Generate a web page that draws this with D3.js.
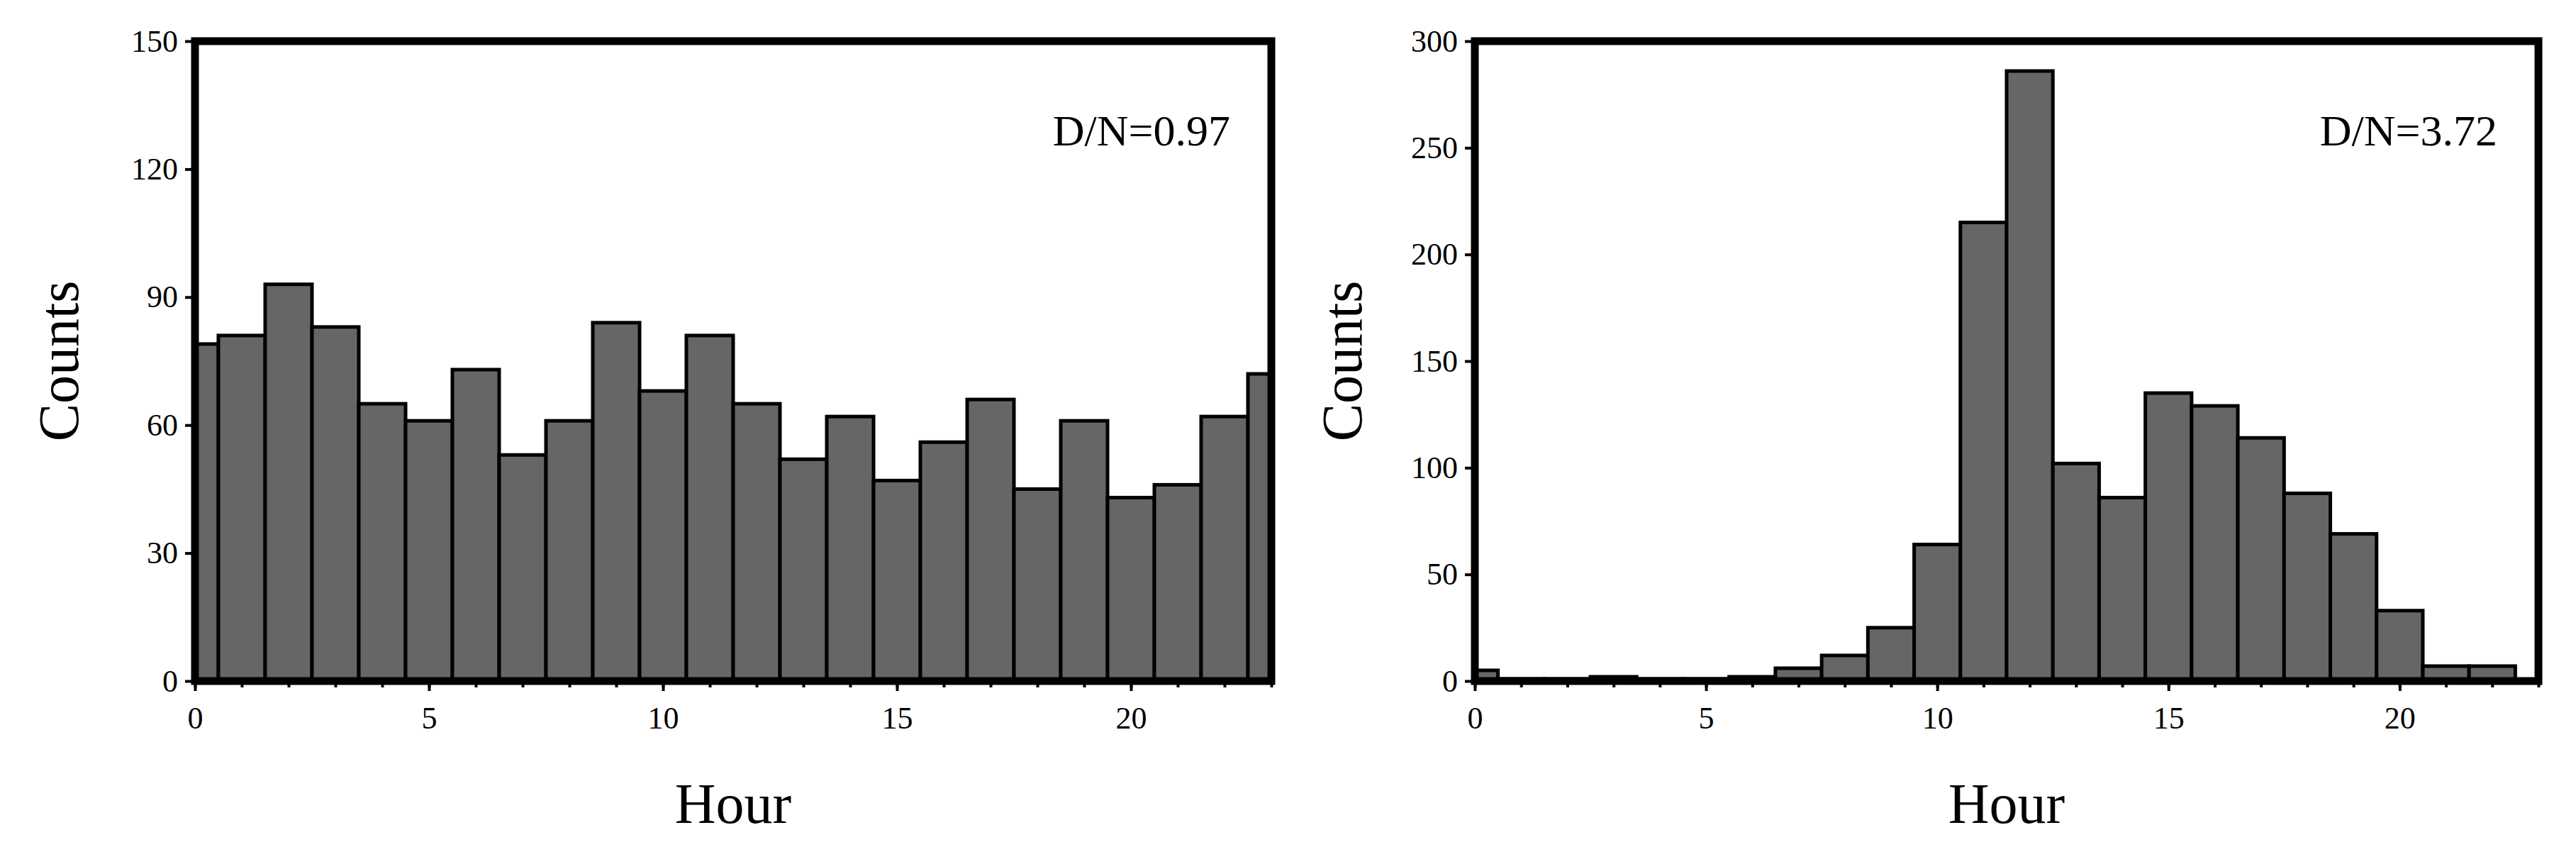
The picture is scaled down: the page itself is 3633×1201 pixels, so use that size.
<!DOCTYPE html>
<html><head><meta charset="utf-8">
<script src="https://cdn.jsdelivr.net/npm/d3@7"></script>
<style>body{margin:0;background:#fff}</style></head>
<body><svg id="c" width="3633" height="1201"></svg>
<script>
const hoursA = d3.range(0,24);
const countsA = [79,81,93,83,65,61,73,53,61,84,68,81,65,52,62,47,56,66,45,61,43,46,62,72];
const hoursB = d3.range(0,23);
const countsB = [5,1,1,2,1,1,2,6,12,25,64,215,286,102,86,135,129,114,88,69,33,7,7];
const xTicks = [0,5,10,15,20];
const yTicksA = [0,30,60,90,120,150];
const yTicksB = [0,50,100,150,200,250,300];
const panels = [
 {hours:hoursA, counts:countsA, yMax:150, yTicks:yTicksA, label:"D/N=0.97", x0:275, x1:1793, titleX:82},
 {hours:hoursB, counts:countsB, yMax:300, yTicks:yTicksB, label:"D/N=3.72", x0:2080, x1:3580, titleX:1892}
];
const svg = d3.select("#c");
const font = "'Liberation Serif','Times New Roman',serif";
const y0 = 960, y1 = 58;
panels.forEach((p,i)=>{
  const x = d3.scaleLinear().domain([0,23]).range([p.x0,p.x1]);
  const y = d3.scaleLinear().domain([0,p.yMax]).range([y0,y1]);
  const g = svg.append("g");
  const cid = "clip"+i;
  svg.append("clipPath").attr("id",cid).append("rect").attr("x",p.x0).attr("y",y1).attr("width",p.x1-p.x0).attr("height",y0-y1);
  g.append("g").attr("clip-path",`url(#${cid})`).selectAll("rect").data(p.hours).join("rect")
    .attr("x",d=>x(d-0.5)).attr("width",d=>x(d+0.5)-x(d-0.5))
    .attr("y",(d,j)=>y(p.counts[j])).attr("height",(d,j)=>y0-y(p.counts[j]))
    .attr("fill","#666").attr("stroke","#000").attr("stroke-width",5);
  // frame
  g.append("rect").attr("x",p.x0).attr("y",y1).attr("width",p.x1-p.x0).attr("height",y0-y1)
    .attr("fill","none").attr("stroke","#000").attr("stroke-width",11);
  const xa = g.append("g").attr("transform",`translate(0,${y0})`)
    .call(d3.axisBottom(x).tickValues(xTicks).tickSize(14).tickPadding(22).tickFormat(d3.format("d")));
  g.append("g").attr("transform",`translate(0,${y0})`)
    .call(d3.axisBottom(x).tickValues(d3.range(0,24)).tickSize(9).tickFormat(""))
    .call(s=>s.select(".domain").remove());
  const ya = g.append("g").attr("transform",`translate(${p.x0},0)`)
    .call(d3.axisLeft(y).tickValues(p.yTicks).tickSize(14).tickPadding(10));
  g.selectAll(".domain").remove();
  g.selectAll(".tick line").attr("stroke","#000").attr("stroke-width",4);
  g.selectAll(".tick text").attr("font-family",font).attr("font-size",44).attr("fill","#000");
  g.append("text").attr("x",p.x1-58).attr("y",205).attr("text-anchor","end")
    .attr("font-family",font).attr("font-size",62).text(p.label);
  g.append("text").attr("x",(p.x0+p.x1)/2).attr("y",1160).attr("text-anchor","middle")
    .attr("font-family",font).attr("font-size",80).text("Hour");
  g.append("text").attr("transform",`translate(${p.titleX+28},${y0-(y0-y1)/2}) rotate(-90)`)
    .attr("text-anchor","middle").attr("font-family",font).attr("font-size",80).text("Counts");
});
</script></body></html>
